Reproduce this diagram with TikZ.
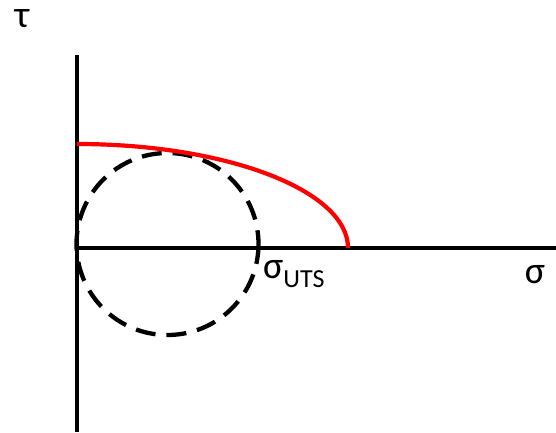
\documentclass[tikz,border=0pt]{standalone}
\usepackage{fontspec}
\setmainfont{Carlito}
\begin{document}
\begin{tikzpicture}[x=1pt,y=-1pt,
  axis/.style={line width=3.3pt},
  envelope/.style={line width=4.2pt,red},
  mohr/.style={line width=4.3pt,dash pattern=on 20pt off 11pt},
  lbl/.style={inner sep=0pt,font=\fontsize{38}{44}\selectfont}]
\useasboundingbox (0,0) rectangle (556,432);
\coordinate (o) at (77,248);
\coordinate (ytop) at (77,55);
\coordinate (ybot) at (77,432);
\coordinate (xend) at (556,248);
\draw[axis] (ytop) -- (ybot);
\draw[axis] (o) -- (xend);
\coordinate (c) at (167.5,244);
\draw[mohr] (c) circle[radius=91];
\draw[envelope] (77,144) arc[start angle=270,end angle=360,x radius=271,y radius=104];
\node[lbl] (tau) at (22,19) {τ};
\node[lbl,anchor=west] (suts) at (263,274) {σ\textsubscript{\fontsize{26}{30}\selectfont UTS}};
\node[lbl] (sig) at (535,275) {σ};
\end{tikzpicture}
\end{document}
